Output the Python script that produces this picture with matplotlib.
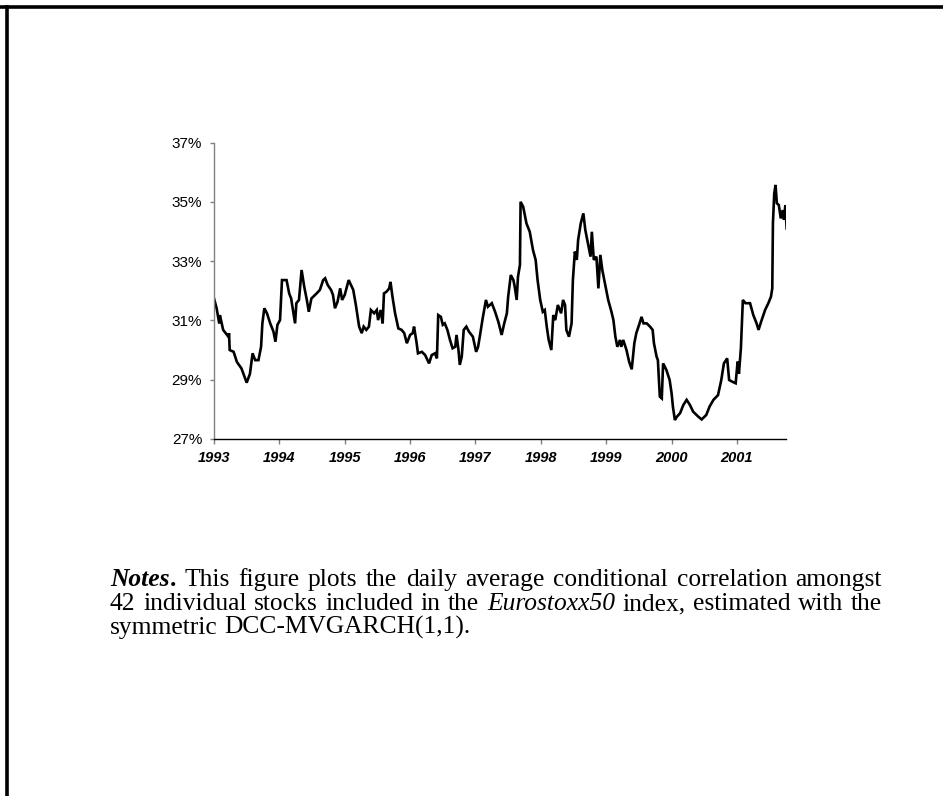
import matplotlib
matplotlib.use("Agg")
import matplotlib.pyplot as plt
from matplotlib.lines import Line2D
from matplotlib.ticker import FuncFormatter

# ---------------- data ----------------
years = [
    1993.00, 1993.04, 1993.08, 1993.09, 1993.14, 1993.22, 1993.23, 1993.24, 1993.30, 1993.35,
    1993.42, 1993.45, 1993.50, 1993.55, 1993.59, 1993.63, 1993.68, 1993.72, 1993.74, 1993.77,
    1993.81, 1993.86, 1993.91, 1993.94, 1993.97, 1994.01, 1994.04, 1994.11, 1994.15, 1994.18,
    1994.24, 1994.26, 1994.30, 1994.34, 1994.38, 1994.42, 1994.45, 1994.49, 1994.57, 1994.62,
    1994.67, 1994.70, 1994.74, 1994.79, 1994.82, 1994.85, 1994.89, 1994.93, 1994.96, 1995.00,
    1995.06,
    1995.13, 1995.17, 1995.22, 1995.26, 1995.29, 1995.33, 1995.37, 1995.40, 1995.45, 1995.49,
    1995.51, 1995.55, 1995.58, 1995.60, 1995.64, 1995.68, 1995.70, 1995.73, 1995.77, 1995.82,
    1995.87, 1995.91, 1995.95, 1996.00, 1996.04, 1996.06, 1996.10, 1996.12, 1996.18, 1996.23,
    1996.29, 1996.33, 1996.38, 1996.41, 1996.43, 1996.47, 1996.50, 1996.53, 1996.57, 1996.61,
    1996.65, 1996.69, 1996.71, 1996.74, 1996.76, 1996.79, 1996.82, 1996.86, 1996.90, 1996.96,
    1997.01, 1997.04, 1997.07, 1997.11, 1997.16, 1997.19, 1997.25, 1997.30, 1997.35,
    1997.40, 1997.44, 1997.48, 1997.50, 1997.54, 1997.58, 1997.60, 1997.63, 1997.65, 1997.68,
    1997.69, 1997.73, 1997.78, 1997.83, 1997.88, 1997.92, 1997.95, 1997.99, 1998.03, 1998.06,
    1998.09, 1998.12, 1998.16, 1998.19, 1998.22, 1998.26, 1998.31, 1998.34, 1998.37, 1998.39,
    1998.43, 1998.47, 1998.49, 1998.52, 1998.55, 1998.57, 1998.61, 1998.65, 1998.68, 1998.72,
    1998.76, 1998.78, 1998.81, 1998.85, 1998.88, 1998.91, 1998.94, 1998.98, 1999.03, 1999.08,
    1999.11, 1999.14, 1999.17, 1999.21, 1999.23, 1999.26, 1999.31, 1999.35, 1999.39, 1999.43,
    1999.46, 1999.51, 1999.54, 1999.57,
    1999.62, 1999.67, 1999.71, 1999.73, 1999.77, 1999.79, 1999.82, 1999.85, 1999.87, 1999.92,
    1999.97, 2000.00, 2000.02, 2000.05, 2000.08, 2000.13, 2000.18, 2000.23, 2000.28, 2000.33,
    2000.41, 2000.46, 2000.53, 2000.58, 2000.64, 2000.71, 2000.76, 2000.80, 2000.85, 2000.88,
    2000.93, 2000.98, 2001.01, 2001.03, 2001.06, 2001.09, 2001.13, 2001.20, 2001.25, 2001.30,
    2001.33, 2001.37, 2001.43, 2001.48, 2001.52, 2001.54, 2001.55, 2001.57, 2001.59, 2001.61,
    2001.64, 2001.67, 2001.70, 2001.72, 2001.74, 2001.76,
]

avg_corr = [
    31.74, 31.41, 30.90, 31.18, 30.68, 30.45, 30.57, 30.00, 29.94, 29.60,
    29.38, 29.20, 28.90, 29.20, 29.89, 29.66, 29.66, 30.11, 30.90, 31.41,
    31.24, 30.90, 30.62, 30.28, 30.85, 31.01, 32.36, 32.36, 31.91, 31.74,
    30.90, 31.58, 31.69, 32.70, 32.14, 31.69, 31.29, 31.74, 31.91, 32.03,
    32.36, 32.42, 32.19, 32.03, 31.86, 31.41, 31.63, 32.08, 31.69, 31.86,
    32.36,
    32.03, 31.52, 30.79, 30.57, 30.79, 30.68, 30.79, 31.35, 31.24, 31.35,
    31.01, 31.35, 30.90, 31.91, 31.97, 32.08, 32.30, 31.80, 31.24, 30.73,
    30.68, 30.57, 30.23, 30.51, 30.57, 30.79, 30.23, 29.89, 29.94, 29.83,
    29.55, 29.83, 29.89, 29.72, 31.18, 31.12, 30.85, 30.90, 30.68, 30.34,
    30.06, 30.11, 30.51, 30.00, 29.50, 29.78, 30.68, 30.79, 30.62, 30.45,
    29.94, 30.11, 30.51, 31.07, 31.69, 31.46, 31.58, 31.29, 30.95,
    30.51, 30.90, 31.24, 31.80, 32.53, 32.36, 32.14, 31.69, 32.47, 32.87,
    35.00, 34.83, 34.27, 33.99, 33.37, 33.04, 32.36, 31.69, 31.29, 31.35,
    30.79, 30.34, 30.00, 31.18, 31.01, 31.52, 31.24, 31.69, 31.52, 30.68,
    30.45, 30.90, 32.36, 33.32, 33.04, 33.71, 34.27, 34.61, 34.05, 33.60,
    33.15, 33.99, 33.04, 33.15, 32.08, 33.21, 32.70, 32.25, 31.69, 31.29,
    31.01, 30.45, 30.11, 30.34, 30.11, 30.34, 30.00, 29.61, 29.35, 30.23,
    30.57, 30.90, 31.12, 30.90,
    30.90, 30.79, 30.68, 30.23, 29.78, 29.66, 28.43, 28.37, 29.55, 29.33,
    28.99, 28.54, 28.09, 27.64, 27.75, 27.87, 28.15, 28.32, 28.15, 27.92,
    27.75, 27.66, 27.81, 28.09, 28.32, 28.48, 28.99, 29.55, 29.72, 28.99,
    28.93, 28.88, 29.61, 29.20, 30.06, 31.69, 31.58, 31.58, 31.18, 30.90,
    30.68, 30.96, 31.35, 31.58, 31.80, 32.08, 34.27, 35.28, 35.57, 34.95,
    34.89, 34.44, 34.72, 34.39, 34.89, 34.10,
]

year_ticks = [1993, 1994, 1995, 1996, 1997, 1998, 1999, 2000, 2001]
pct_ticks = [27, 29, 31, 33, 35, 37]

notes_lines = [
    [[("Notes", "bi"), (".", "b")], [("This", "n")], [("figure", "n")], [("plots", "n")],
     [("the", "n")], [("daily", "n")], [("average", "n")], [("conditional", "n")],
     [("correlation", "n")], [("amongst", "n")]],
    [[("42", "n")], [("individual", "n")], [("stocks", "n")], [("included", "n")],
     [("in", "n")], [("the", "n")], [("Eurostoxx50", "i")], [("index,", "n")],
     [("estimated", "n")], [("with", "n")], [("the", "n")]],
    [[("symmetric", "n")], [("DCC-MVGARCH(1,1).", "n")]],
]

# ---------------- figure ----------------
W, H = 943, 796
fig = plt.figure(figsize=(W / 100, H / 100), dpi=100)
fig.patch.set_facecolor("white")

ax_left, ax_right = 214, 786
ax_top, ax_bottom = 142.5, 439
ax = fig.add_axes([ax_left / W, 1 - ax_bottom / H,
                   (ax_right - ax_left) / W, (ax_bottom - ax_top) / H])

ax.plot(years, avg_corr, color="black", linewidth=1.9, solid_joinstyle="miter")

ax.set_xlim(1993, 2001.75)
ax.set_ylim(27, 37)
ax.set_xticks(year_ticks)
ax.set_yticks(pct_ticks)
ax.yaxis.set_major_formatter(FuncFormatter(lambda v, p: f"{v:.0f}%"))

for side in ("top", "right"):
    ax.spines[side].set_visible(False)
ax.spines["left"].set_color("#808080")
ax.spines["left"].set_linewidth(1.0)
ax.spines["bottom"].set_color("black")
ax.spines["bottom"].set_linewidth(1.0)

ax.tick_params(axis="y", direction="out", length=3, width=1, color="#808080",
               pad=5.5, labelsize=11, labelcolor="black")
ax.tick_params(axis="x", direction="out", length=3.5, width=1, color="#808080",
               pad=5.5, labelsize=10.5)
for lab in ax.get_yticklabels():
    lab.set_fontfamily("Liberation Sans")
for lab in ax.get_xticklabels():
    lab.set_fontfamily("Liberation Sans")
    lab.set_fontweight("bold")
    lab.set_fontstyle("italic")

# ---------------- frame lines (top and left only) ----------------
fig.add_artist(Line2D([0, 1], [1 - 6.5 / H, 1 - 6.5 / H], transform=fig.transFigure,
                      color="black", linewidth=2.6, solid_capstyle="butt"))
fig.add_artist(Line2D([7.5 / W, 7.5 / W], [0, 1 - 5 / H], transform=fig.transFigure,
                      color="black", linewidth=2.6, solid_capstyle="butt"))

# ---------------- notes (justified, mixed styles) ----------------
styles = {
    "n": dict(fontweight="normal", fontstyle="normal"),
    "b": dict(fontweight="bold", fontstyle="normal"),
    "i": dict(fontweight="normal", fontstyle="italic"),
    "bi": dict(fontweight="bold", fontstyle="italic"),
}
left_px, right_px = 110, 882
baselines = [586, 610, 634]
renderer = fig.canvas.get_renderer()


def measure(txt, st, fs):
    t = fig.text(0, 0, txt, fontsize=fs, family="Liberation Serif", **styles[st])
    w = t.get_window_extent(renderer).width
    t.remove()
    return w


def natural_width(line, fs):
    sp = measure("a a", "n", fs) - measure("aa", "n", fs)
    return sum(measure(r, s, fs) for word in line for r, s in word) + sp * (len(line) - 1)


# font size so that the longest full line fits the column with normal spacing
fs0 = 15.0
longest = max(natural_width(notes_lines[0], fs0), natural_width(notes_lines[1], fs0))
fs = fs0 * (right_px - left_px) / longest * 0.99

space_w = measure("a a", "n", fs) - measure("aa", "n", fs)

for li, line in enumerate(notes_lines):
    widths = [sum(measure(r, s, fs) for r, s in word) for word in line]
    total = sum(widths)
    if li < len(notes_lines) - 1 and len(line) > 1:
        gap = (right_px - left_px - total) / (len(line) - 1)
    else:
        gap = space_w
    x = left_px
    for word, wd in zip(line, widths):
        xr = x
        for r, s in word:
            fig.text(xr / W, 1 - baselines[li] / H, r, fontsize=fs,
                     family="Liberation Serif", va="baseline", ha="left",
                     **styles[s])
            xr += measure(r, s, fs)
        x += wd + gap

fig.savefig("out.png", dpi=100, facecolor="white")
